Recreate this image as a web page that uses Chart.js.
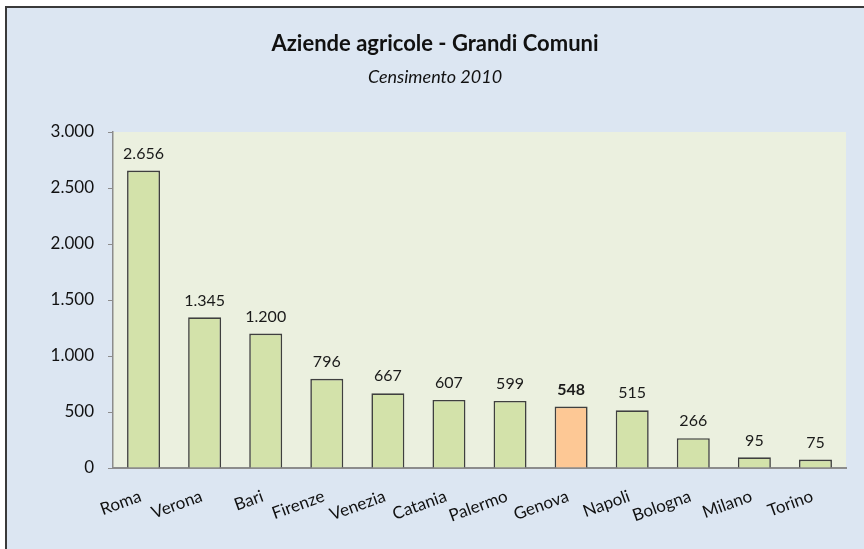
<!DOCTYPE html>
<html>
<head>
<meta charset="utf-8">
<script src="https://cdn.jsdelivr.net/npm/chart.js@4/dist/chart.umd.min.js"></script>
<style>
html,body{margin:0;padding:0;background:#ffffff;}
#wrap{position:absolute;left:0;top:0;width:864px;height:549px;}
</style>
</head>
<body>
<div id="wrap"><canvas id="c" width="864" height="549"></canvas></div>
<script>
const categories = ["Roma","Verona","Bari","Firenze","Venezia","Catania","Palermo","Genova","Napoli","Bologna","Milano","Torino"];
const values = [2656,1345,1200,796,667,607,599,548,515,266,95,75];
const highlight = "Genova";
const yTicks = [0,500,1000,1500,2000,2500,3000];

const FONT = "Lato, 'Open Sans', sans-serif";
const green = "#d3e2aa", orange = "#fdc895";

function fmt(v){ return v.toString().replace(/\B(?=(\d{3})+(?!\d))/g, "."); }

const bgPlugin = {
  id: 'bg',
  beforeDraw(chart){
    const ctx = chart.ctx;
    ctx.save();
    ctx.fillStyle = "#dce6f2";
    ctx.fillRect(6,7,chart.width-6,chart.height-7);
    ctx.strokeStyle = "#3a3a3a";
    ctx.lineWidth = 2;
    ctx.beginPath();
    ctx.moveTo(6,chart.height); ctx.lineTo(6,7); ctx.lineTo(chart.width,7);
    ctx.stroke();
    const a = chart.chartArea;
    ctx.fillStyle = "#ebf0df";
    ctx.fillRect(a.left,a.top,a.right-a.left,a.bottom-a.top);
    ctx.restore();
  }
};

const labelPlugin = {
  id: 'vlabels',
  afterDatasetsDraw(chart){
    const ctx = chart.ctx;
    const meta = chart.getDatasetMeta(0);
    ctx.save();
    ctx.fillStyle = "#1a1a1a";
    ctx.textAlign = "center";
    ctx.textBaseline = "middle";
    meta.data.forEach((bar,i)=>{
      const bold = categories[i] === highlight;
      ctx.font = (bold ? "bold " : "") + "16px " + FONT;
      ctx.fillText(fmt(values[i]), bar.x, bar.y - 17);
    });
    ctx.restore();
  }
};

new Chart(document.getElementById('c'), {
  type: 'bar',
  data: {
    labels: categories,
    datasets: [{
      data: values,
      backgroundColor: categories.map(c => c === highlight ? orange : green),
      borderColor: "#3f3f3f",
      borderWidth: 1.6,
      barPercentage: 0.54,
      categoryPercentage: 1.0
    }]
  },
  options: {
    responsive: false,
    animation: false,
    devicePixelRatio: 1,
    layout: { padding: { left: 6, right: 0, top: 7, bottom: 0 } },
    plugins: {
      legend: { display: false },
      tooltip: { enabled: false },
      title: {
        display: true,
        text: "Aziende agricole - Grandi Comuni",
        color: "#111",
        font: { family: FONT, size: 22, weight: 'bold' },
        padding: { top: 24, bottom: 9 }
      },
      subtitle: {
        display: true,
        text: "Censimento 2010",
        color: "#111",
        font: { family: FONT, size: 18, style: 'italic' },
        padding: { top: 0, bottom: 44 }
      }
    },
    scales: {
      x: {
        grid: { display: false, drawTicks: false },
        border: { color: "#8c8c8c", width: 2 },
        ticks: {
          color: "#111",
          font: { family: FONT, size: 17 },
          minRotation: 20, maxRotation: 20,
          padding: 18,
          labelOffset: -3,
          autoSkip: false
        },
        afterFit(s){ s.height = 81; }
      },
      y: {
        min: 0, max: 3000,
        afterBuildTicks(s){ s.ticks = yTicks.map(v => ({value: v})); },
        grid: { drawOnChartArea: false, tickLength: 5, color: "#8c8c8c" },
        border: { color: "#8c8c8c", width: 1.5 },
        ticks: {
          color: "#111",
          font: { family: FONT, size: 17 },
          padding: 14,
          callback: v => fmt(v)
        },
        afterFit(s){ s.width = 107; }
      },
      yRight: {
        position: 'right',
        display: true,
        grid: { display: false, drawTicks: false },
        border: { display: false },
        ticks: { display: false },
        afterFit(s){ s.width = 18; }
      }
    }
  },
  plugins: [bgPlugin, labelPlugin]
});
</script>
</body>
</html>
